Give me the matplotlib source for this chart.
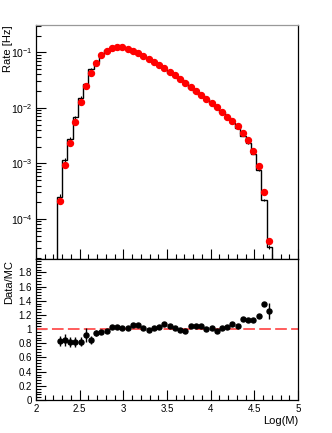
import numpy as np
import matplotlib
matplotlib.use("Agg")
import matplotlib.pyplot as plt
from matplotlib.ticker import MultipleLocator, LogLocator, LogFormatterSciNotation, NullFormatter, FixedLocator

plt.rcParams["font.family"] = ["Liberation Sans", "DejaVu Sans"]
plt.rcParams["mathtext.default"] = "regular"

# binning of Log(M): 41 bins, width 0.06, starting at 2.24
bin_start = 2.24
bin_width = 0.06
n_bins = 41

# measured rate (red points) [Hz]
data_rate = [2.1e-4, 9.5e-4, 2.3e-3, 5.5e-3, 1.26e-2, 2.5e-2, 4.3e-2, 6.3e-2, 8.8e-2, 0.105,
             0.118, 0.123, 0.123, 0.116, 0.107, 0.098, 0.087, 0.0767, 0.0678, 0.060,
             0.052, 0.0449, 0.039, 0.0332, 0.0285, 0.0241, 0.0205, 0.0173, 0.0145, 0.0121,
             0.0102, 0.00847, 0.00698, 0.00577, 0.00462, 0.00356, 0.00259, 0.00169, 8.97e-4, 3.02e-4,
             3.93e-5]

# simulated rate (black histogram) [Hz]
mc_rate = [2.52e-4, 1.13e-3, 2.79e-3, 6.76e-3, 1.53e-2, 2.72e-2, 5.10e-2, 6.68e-2, 9.20e-2, 0.108,
           0.114, 0.119, 0.121, 0.115, 0.102, 0.093, 0.0858, 0.0771, 0.0669, 0.0586,
           0.0487, 0.0433, 0.0383, 0.0334, 0.0295, 0.0232, 0.0197, 0.0167, 0.0144, 0.0120,
           0.0105, 0.00839, 0.00676, 0.00541, 0.00443, 0.00310, 0.00229, 0.00150, 7.60e-4, 2.23e-4,
           3.13e-5]
mc_relerr = [0.13, 0.09, 0.07, 0.06, 0.05, 0.05, 0.04, 0.03, 0.02, 0.02,
             0.01, 0.01, 0.01, 0.01, 0.01, 0.01, 0.01, 0.01, 0.01, 0.01,
             0.01, 0.01, 0.01, 0.01, 0.01, 0.01, 0.01, 0.01, 0.01, 0.01,
             0.01, 0.01, 0.01, 0.01, 0.01, 0.01, 0.02, 0.02, 0.03, 0.04,
             0.08]

# Data/MC ratio and its errors
ratio = [0.833, 0.843, 0.824, 0.814, 0.824, 0.919, 0.843, 0.943, 0.957, 0.971,
         1.033, 1.033, 1.019, 1.010, 1.052, 1.052, 1.014, 0.995, 1.014, 1.024,
         1.067, 1.038, 1.019, 0.995, 0.967, 1.038, 1.038, 1.038, 1.005, 1.010,
         0.971, 1.010, 1.033, 1.067, 1.043, 1.148, 1.129, 1.129, 1.181, 1.357,
         1.257]
ratio_err = [0.076, 0.083, 0.07, 0.07, 0.06, 0.10, 0.055, 0.04, 0.025, 0.02,
             0.015, 0.01, 0.01, 0.01, 0.01, 0.01, 0.01, 0.01, 0.01, 0.01,
             0.01, 0.01, 0.01, 0.01, 0.01, 0.01, 0.01, 0.01, 0.01, 0.01,
             0.01, 0.01, 0.01, 0.01, 0.01, 0.015, 0.015, 0.015, 0.02, 0.03,
             0.11]

edges = bin_start + bin_width * np.arange(n_bins + 1)
centres = 0.5 * (edges[:-1] + edges[1:])
mc = np.array(mc_rate)

fig = plt.figure(figsize=(3.32, 4.33), dpi=100)
ax1 = fig.add_axes([0.1084, 0.4018, 0.7892, 0.5404])
ax2 = fig.add_axes([0.1084, 0.0762, 0.7892, 0.3256])

# --- top panel: rate
ax1.stairs(mc, edges, baseline=1e-7, color="black", lw=1.0)
ax1.errorbar(centres, mc, yerr=mc * np.array(mc_relerr), fmt="none", ecolor="black", elinewidth=0.8)
ax1.plot(centres, data_rate, "o", color="red", ms=4.3, mec="red", zorder=5)
ax1.set_yscale("log")
ax1.set_xlim(2, 5)
ax1.set_ylim(1.9e-5, 0.31)
ax1.set_ylabel("Rate [Hz]", fontsize=8, loc="top")
ax1.yaxis.set_label_coords(-0.088, 1.0)
ax1.yaxis.set_major_locator(LogLocator(base=10, numticks=10))
ax1.yaxis.set_minor_locator(LogLocator(base=10, subs=np.arange(2, 10), numticks=20))
ax1.yaxis.set_major_formatter(LogFormatterSciNotation())
ax1.yaxis.set_minor_formatter(NullFormatter())
ax1.xaxis.set_major_locator(MultipleLocator(0.5))
ax1.xaxis.set_minor_locator(MultipleLocator(0.1))
ax1.tick_params(axis="x", labelbottom=False)
ax1.spines["top"].set_color("#999999")

# --- bottom panel: ratio
ax2.axhline(1.0, color="#ff5c5c", lw=1.4, ls=(0, (6, 2.2)))
ax2.errorbar(centres, ratio, yerr=ratio_err, fmt="o", color="black", ms=3.6, elinewidth=1.0, capsize=0)
ax2.set_xlim(2, 5)
ax2.set_ylim(0, 1.99)
ax2.yaxis.set_major_locator(FixedLocator(np.round(np.arange(0, 1.9, 0.2), 1)))
ax2.yaxis.set_major_formatter(matplotlib.ticker.FuncFormatter(lambda v, p: f"{v:g}"))
ax2.yaxis.set_minor_locator(MultipleLocator(0.04))
ax2.xaxis.set_major_locator(MultipleLocator(0.5))
ax2.xaxis.set_minor_locator(MultipleLocator(0.1))
ax2.xaxis.set_major_formatter(matplotlib.ticker.FuncFormatter(lambda v, p: f"{v:g}"))
ax2.set_ylabel("Data/MC", fontsize=8, loc="top")
ax2.yaxis.set_label_coords(-0.085, 0.995)
ax2.set_xlabel("Log(M)", fontsize=8, loc="right", labelpad=1)

for ax in (ax1, ax2):
    ax.tick_params(which="both", direction="in", top=False, right=False, labelsize=7, pad=3)
    ax.tick_params(which="major", length=7, width=0.8)
    ax.tick_params(which="minor", length=3.5, width=0.8)
    for s in ax.spines.values():
        s.set_linewidth(0.9)
ax1.tick_params(axis="y", labelsize=7.5, pad=2.5)

fig.savefig("out.png", dpi=100)
